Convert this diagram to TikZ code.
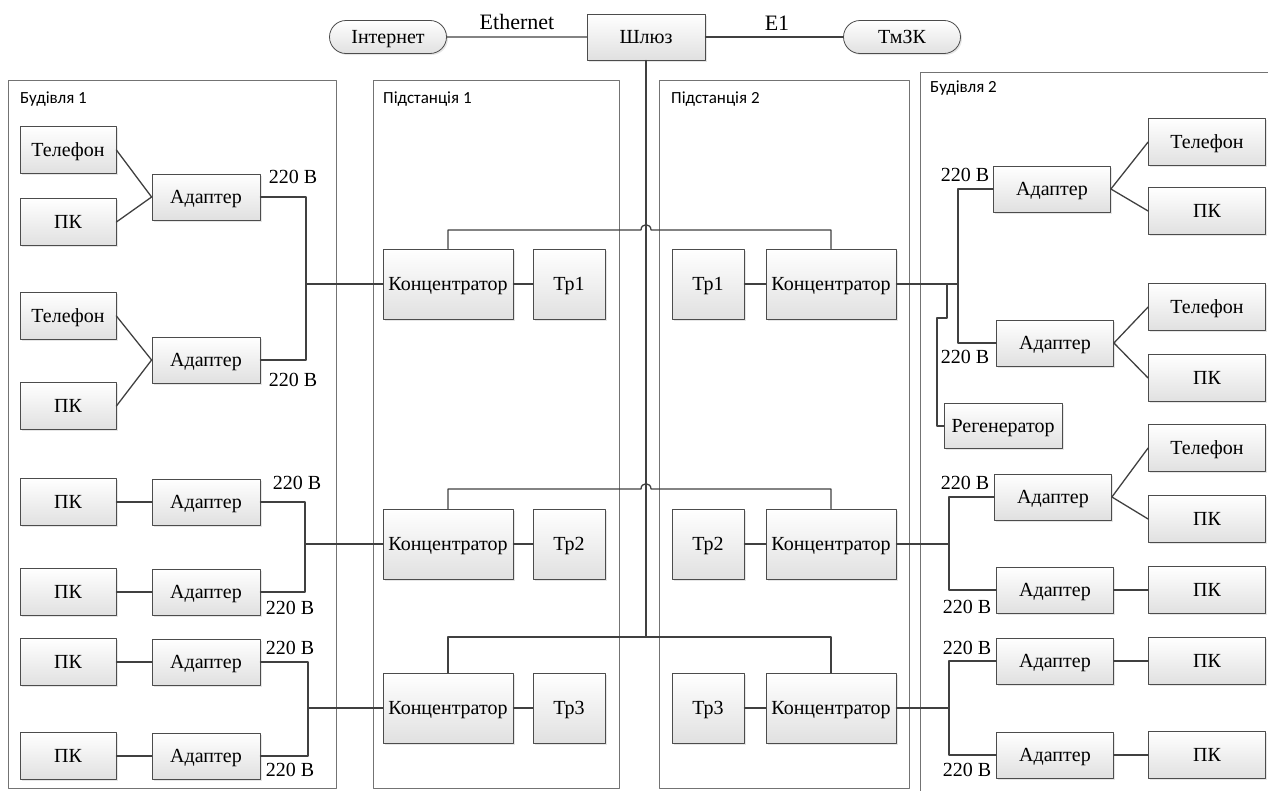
\documentclass[tikz,border=0pt]{standalone}
\usepackage{fontspec}
\setmainfont{Liberation Serif}
\newfontfamily\zonefont{Carlito}
\usetikzlibrary{calc,shadows,shapes.misc,positioning}

\begin{document}
\begin{tikzpicture}[line cap=round,line join=round,x=1pt,y=-1pt,
  font=\fontsize{20}{24}\selectfont,
  blk/.style={draw=black!70,line width=0.8pt,top color=white,bottom color=black!12,
    drop shadow={shadow xshift=1.5pt,shadow yshift=-1.5pt,opacity=0.2},
    inner sep=1pt,text height=13pt,text depth=1pt},
  dev/.style={blk,minimum width=96pt,minimum height=47pt},
  adp/.style={blk,minimum width=108pt,minimum height=46pt},
  conc/.style={blk,minimum width=130pt,minimum height=70pt},
  trf/.style={blk,minimum width=72pt,minimum height=70pt},
  pill/.style={blk,rounded rectangle,minimum width=119pt,minimum height=33pt},
  zone/.style={draw=black!55,line width=0.9pt},
  zlabel/.style={anchor=west,inner sep=0pt,font=\zonefont\fontsize{17}{20}\selectfont},
  wire/.style={draw=black!75,line width=1.3pt},
  volt/.style={inner sep=0pt}]
\clip (0,0) rectangle (1268,790);

% zones
\draw[zone] (8,80) rectangle (336,788);
\draw[zone] (373,80) rectangle (619,788);
\draw[zone] (659,80) rectangle (909,788);
\draw[zone] (920,72) rectangle (1290,810);
\node[zlabel] (z1) at (20,99) {Будівля 1};
\node[zlabel] (z2) at (383,99) {Підстанція 1};
\node[zlabel] (z3) at (671,99) {Підстанція 2};
\node[zlabel] (z4) at (930,88) {Будівля 2};

% top
\node[pill] (inet) at (388,37) {Інтернет};
\node[blk,minimum width=118pt,minimum height=46pt] (gw) at (646,37) {Шлюз};
\node[pill] (tmzk) at (902,37) {ТмЗК};
\node[font=\fontsize{22}{26}\selectfont] (eth) at (517,22) {Ethernet};
\node[font=\fontsize{22}{26}\selectfont] (e1) at (777,23) {E1};
\draw[wire] (inet) -- (gw);
\draw[wire] (gw) -- (tmzk);

% substations
\foreach \i/\y in {1/284,2/544,3/708}{
  \node[conc] (cl\i) at (448,\y) {Концентратор};
  \node[trf] (tl\i) at (569,\y) {Тр\i};
  \node[trf] (tr\i) at (708,\y) {Тр\i};
  \node[conc] (cr\i) at (831,\y) {Концентратор};
  \draw[wire] (cl\i) -- (tl\i);
  \draw[wire] (tr\i) -- (cr\i);
}
\coordinate (trunk) at (646,637);
\coordinate (hop1) at (646,230);
\coordinate (hop2) at (646,489);
\draw[wire] (gw.south) -- (trunk);
\draw[wire] (cl1.north) |- ($(hop1)+(-5,0)$) .. controls +(0,-7) and +(0,-7) .. ($(hop1)+(5,0)$) -| (cr1.north);
\draw[wire] (cl2.north) |- ($(hop2)+(-5,0)$) .. controls +(0,-7) and +(0,-7) .. ($(hop2)+(5,0)$) -| (cr2.north);
\draw[wire] (cl3.north) |- (trunk) -| (cr3.north);

% building 1
\foreach \n/\t/\y in {tel1/Телефон/150,pc1/ПК/222,tel2/Телефон/316,pc2/ПК/406,
    pc3/ПК/502,pc4/ПК/592,pc5/ПК/662,pc6/ПК/756}
  \node[dev] (\n) at (68,\y) {\t};
\foreach \n/\y in {ad1/197,ad2/360,ad3/502,ad4/592,ad5/662,ad6/756}
  \node[adp] (\n) at (206,\y) {Адаптер};
\draw[wire] (tel1.east) -- (ad1.west);
\draw[wire] (pc1.east) -- (ad1.west);
\draw[wire] (tel2.east) -- (ad2.west);
\draw[wire] (pc2.east) -- (ad2.west);
\draw[wire] (pc3) -- (ad3);
\draw[wire] (pc4) -- (ad4);
\draw[wire] (pc5) -- (ad5);
\draw[wire] (pc6) -- (ad6);
\coordinate (lb1) at (306,284);
\coordinate (lb2) at (305,544);
\coordinate (lb3) at (308,708);
\draw[wire] (ad1.east) -| (lb1) |- (ad2.east);
\draw[wire] (ad3.east) -| (lb2) |- (ad4.east);
\draw[wire] (ad5.east) -| (lb3) |- (ad6.east);
\draw[wire] (lb1) -- (cl1.west);
\draw[wire] (lb2) -- (cl2.west);
\draw[wire] (lb3) -- (cl3.west);

% building 2
\foreach \n/\t/\y in {telR1/Телефон/142,pcR1/ПК/211,telR2/Телефон/307,pcR2/ПК/378,
    telR3/Телефон/448,pcR3/ПК/519,pcR4/ПК/590,pcR5/ПК/661,pcR6/ПК/755}
  \node[dev,minimum width=117pt] (\n) at (1207,\y) {\t};
\foreach \n/\x/\y in {adR1/1052/189,adR2/1055/343,adR3/1053/497,adR4/1055/590,
    adR5/1055/661,adR6/1055/755}
  \node[adp,minimum width=117pt] (\n) at (\x,\y) {Адаптер};
\node[blk,minimum width=118pt,minimum height=45pt] (reg) at (1003,426) {Регенератор};
\draw[wire] (adR1.east) -- (telR1.west);
\draw[wire] (adR1.east) -- (pcR1.west);
\draw[wire] (adR2.east) -- (telR2.west);
\draw[wire] (adR2.east) -- (pcR2.west);
\draw[wire] (adR3.east) -- (telR3.west);
\draw[wire] (adR3.east) -- (pcR3.west);
\draw[wire] (adR4) -- (pcR4);
\draw[wire] (adR5) -- (pcR5);
\draw[wire] (adR6) -- (pcR6);
\coordinate (rb1) at (958,284);
\coordinate (rb2) at (949,544);
\coordinate (rb3) at (949,708);
\coordinate (rg) at (947,284);
\draw[wire] (cr1.east) -- (rb1);
\draw[wire] (cr2.east) -- (rb2);
\draw[wire] (cr3.east) -- (rb3);
\draw[wire] (adR1.west) -| (rb1) |- (adR2.west);
\draw[wire] (adR3.west) -| (rb2) |- (adR4.west);
\draw[wire] (adR5.west) -| (rb3) |- (adR6.west);
\draw[wire] (rg) -- ++(0,34) -- ++(-10,0) |- (reg.west);

% 220 V labels
\foreach \x/\y [count=\i] in {293/177,293/380,297/483,290/608,290/648,290/770,
    965/175,965/357,965/483,967/607,967/648,967/770}
  \node[volt] (v\i) at (\x,\y) {220 В};
\end{tikzpicture}
\end{document}
